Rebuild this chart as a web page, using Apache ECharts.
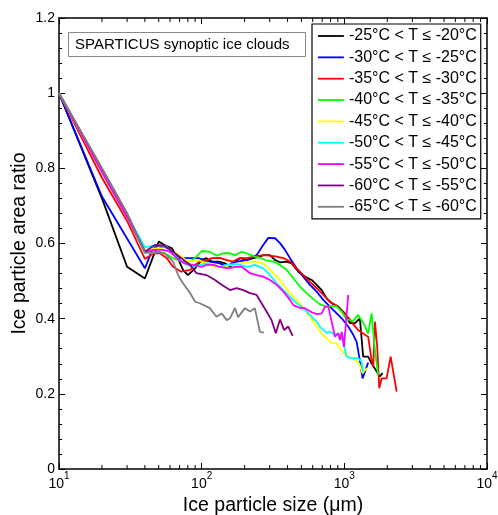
<!DOCTYPE html>
<html><head><meta charset="utf-8">
<script src="https://cdn.jsdelivr.net/npm/echarts@6/dist/echarts.min.js"></script>
<style>html,body{margin:0;padding:0;background:#fff}#c{width:498px;height:515px}</style>
</head><body><div id="c"></div>
<script>
const legendNames = ['-25°C < T ≤ -20°C','-30°C < T ≤ -25°C','-35°C < T ≤ -30°C','-40°C < T ≤ -35°C','-45°C < T ≤ -40°C','-50°C < T ≤ -45°C','-55°C < T ≤ -50°C','-60°C < T ≤ -55°C','-65°C < T ≤ -60°C'];
const lineColors = ['#000000','#0000ff','#ff0000','#00ff00','#ffff00','#00ffff','#ff00ff','#800080','#7f7f7f'];

const size_25_20 = [10,20,30,40,50,55,62,68,74,80,90,100,108,118,131,146,158,171,186,207,230,256,270,301,327,354,394,428,476,529,590,640,694,752,815,907,1009,1094,1186,1285,1355,1469,1552,1775,1854];
const ratio_25_20 = [1.0,0.72,0.538,0.507,0.605,0.596,0.587,0.561,0.530,0.516,0.534,0.556,0.561,0.552,0.552,0.547,0.538,0.552,0.561,0.556,0.561,0.565,0.569,0.569,0.556,0.550,0.552,0.547,0.525,0.512,0.503,0.490,0.476,0.454,0.441,0.432,0.414,0.388,0.388,0.401,0.299,0.299,0.281,0.246,0.255];

const size_30_25 = [10,20,40,45,48,55,60,65,70,79,95,114,134,150,166,186,207,243,270,293,327,354,384,416,463,515,574,640,712,793,884,958,1065,1154,1219,1271,1342,1469];
const ratio_30_25 = [1.0,0.725,0.534,0.583,0.592,0.592,0.583,0.569,0.561,0.561,0.561,0.552,0.547,0.538,0.550,0.553,0.556,0.569,0.596,0.615,0.614,0.601,0.583,0.561,0.534,0.512,0.490,0.472,0.450,0.432,0.414,0.401,0.379,0.357,0.339,0.299,0.241,0.283];

const size_35_30 = [10,20,30,40,46,51,57,63,72,83,90,97,105,118,134,150,166,186,207,236,270,301,336,374,416,463,515,574,640,712,793,884,982,1094,1154,1250,1393,1469,1552,1595,1639,1700,1757,1824,1978,2112,2325];
const ratio_35_30 = [1.0,0.775,0.66,0.559,0.574,0.574,0.561,0.538,0.525,0.530,0.543,0.552,0.553,0.561,0.562,0.556,0.552,0.562,0.561,0.565,0.569,0.568,0.565,0.561,0.552,0.534,0.516,0.498,0.481,0.463,0.445,0.434,0.417,0.398,0.385,0.370,0.357,0.352,0.290,0.272,0.392,0.325,0.215,0.241,0.241,0.299,0.206];

const size_40_35 = [10,20,30,40,45,50,55,63,72,83,92,100,114,127,142,158,171,191,207,236,256,278,318,354,394,439,488,544,606,675,752,837,884,958,1038,1154,1250,1393,1469,1552,1639,1727];
const ratio_40_35 = [1.0,0.79,0.67,0.577,0.574,0.578,0.574,0.561,0.552,0.552,0.565,0.580,0.578,0.568,0.574,0.574,0.569,0.578,0.574,0.565,0.562,0.556,0.552,0.543,0.530,0.508,0.485,0.468,0.452,0.438,0.432,0.434,0.432,0.419,0.398,0.394,0.410,0.381,0.360,0.414,0.317,0.250];

const size_45_40 = [10,20,30,40,45,50,56,60,67,80,95,108,124,142,162,186,218,243,270,301,336,374,416,463,515,574,640,694,752,815,884,932,1009,1094,1186,1271,1342,1393,1445];
const ratio_45_40 = [1.0,0.79,0.67,0.583,0.585,0.588,0.582,0.578,0.574,0.552,0.556,0.547,0.538,0.538,0.543,0.547,0.552,0.552,0.547,0.530,0.512,0.490,0.468,0.450,0.430,0.405,0.380,0.360,0.348,0.335,0.334,0.320,0.305,0.298,0.290,0.280,0.255,0.263,0.268];

const size_50_45 = [10,20,30,40,47,57,63,70,79,87,97,108,121,134,150,166,186,207,236,270,301,336,374,416,463,515,574,640,675,712,752,793,860,907,958,973,1009,1038,1125,1250,1320,1355];
const ratio_50_45 = [1.0,0.795,0.675,0.590,0.596,0.592,0.574,0.556,0.543,0.538,0.543,0.547,0.543,0.538,0.543,0.545,0.543,0.538,0.543,0.534,0.516,0.494,0.476,0.458,0.441,0.428,0.410,0.392,0.378,0.370,0.362,0.365,0.357,0.361,0.343,0.361,0.317,0.299,0.295,0.295,0.286,0.259];

const size_55_50 = [10,20,30,40,46,54,60,67,76,87,100,108,121,134,154,171,191,218,243,270,301,336,374,416,439,463,488,529,590,640,694,732,772,815,860,907,932,958,994,1065];
const ratio_55_50 = [1.0,0.79,0.67,0.578,0.583,0.583,0.578,0.561,0.547,0.543,0.538,0.543,0.543,0.538,0.534,0.538,0.538,0.521,0.516,0.512,0.503,0.490,0.472,0.450,0.436,0.432,0.429,0.428,0.417,0.412,0.414,0.432,0.432,0.392,0.352,0.361,0.343,0.365,0.325,0.463];

const size_60_55 = [10,20,30,40,47,55,63,72,83,92,108,124,138,158,176,196,218,243,263,285,309,331,354,378,405,434];
const ratio_60_55 = [1.0,0.80,0.68,0.578,0.596,0.594,0.578,0.561,0.543,0.521,0.516,0.503,0.490,0.476,0.481,0.476,0.468,0.463,0.441,0.419,0.396,0.361,0.398,0.370,0.379,0.354];

const size_65_60 = [10,20,30,40,50,55,63,68.5,74,83,90,97,114,127,138,150,158,171,180,201,218,236,256,273];
const ratio_65_60 = [1.0,0.80,0.68,0.575,0.578,0.574,0.552,0.515,0.494,0.468,0.445,0.441,0.428,0.405,0.414,0.396,0.401,0.428,0.404,0.428,0.419,0.428,0.365,0.363];

const xMinorTicks = [20,30,40,50,60,70,80,90,200,300,400,500,600,700,800,900,2000,3000,4000,5000,6000,7000,8000,9000];
const noteText = 'SPARTICUS synoptic ice clouds';
const xTitle = 'Ice particle size (\u03bcm)';
const yTitle = 'Ice particle area ratio';

const sizes = [size_25_20,size_30_25,size_35_30,size_40_35,size_45_40,size_50_45,size_55_50,size_60_55,size_65_60];
const ratios = [ratio_25_20,ratio_30_25,ratio_35_30,ratio_40_35,ratio_45_40,ratio_50_45,ratio_55_50,ratio_60_55,ratio_65_60];

const FONT = 'Liberation Sans, Arial, sans-serif';
const chart = echarts.init(document.getElementById('c'), null, {renderer:'canvas'});

const lineSeries = legendNames.map((name, i) => ({
  name, type:'line', xAxisIndex:0, yAxisIndex:0, symbol:'none', silent:true, animation:false,
  lineStyle:{color:lineColors[i], width:1.8}, itemStyle:{color:lineColors[i]},
  data: sizes[i].map((s, j) => [s, ratios[i][j]]), z: 2 + i
}));

const minorTickSeries = {
  type:'custom', xAxisIndex:0, yAxisIndex:0, silent:true, animation:false, z:20,
  data: xMinorTicks.map(v => [v]),
  renderItem: (params, api) => {
    const v = api.value(0);
    const b = api.coord([v, 0]);
    const t = api.coord([v, 1.2]);
    return {type:'group', children:[
      {type:'line', shape:{x1:b[0], y1:b[1], x2:b[0], y2:b[1]-4}, style:{stroke:'#000', lineWidth:1}},
      {type:'line', shape:{x1:t[0], y1:t[1], x2:t[0], y2:t[1]+4}, style:{stroke:'#000', lineWidth:1}}
    ]};
  }
};

const supMap = {10:'1',100:'2',1000:'3',10000:'4'};
const common = {axisLine:{show:true, onZero:false, lineStyle:{color:'#000', width:1.5}},
  axisTick:{show:true, inside:true, length:6, lineStyle:{color:'#000', width:1}},
  splitLine:{show:false}};

chart.setOption({
  animation:false,
  backgroundColor:'#fff',
  grid:{left:59, right:11, top:18, bottom:46, containLabel:false, outerBoundsMode:'none'},
  title:{text:noteText, left:68, top:32, padding:[5,16,5,7], borderColor:'#888', borderWidth:1,
    textStyle:{fontFamily:FONT, fontSize:15, fontWeight:'normal', color:'#000'}},
  legend:{data:legendNames, orient:'vertical', left:312, top:24, padding:[4,4,4,5],
    itemWidth:26, itemHeight:14, itemGap:5.35, borderColor:'#000', borderWidth:1.2, backgroundColor:'#fff',
    itemStyle:{opacity:0}, lineStyle:{width:1.8},
    selectedMode:false, textStyle:{fontFamily:FONT, fontSize:16, color:'#000'}},
  xAxis:[
    Object.assign({type:'log', logBase:10, min:10, max:10000, position:'bottom',
      name:xTitle, nameLocation:'middle', nameGap:15,
      nameTextStyle:{fontFamily:FONT, fontSize:19.5, color:'#000'},
      minorTick:{show:false},
      axisLabel:{show:true, margin:2, fontFamily:FONT, fontSize:14, color:'#000',
        formatter:(v)=> '{b|10}{s|' + (supMap[Math.round(v)]||'') + '}',
        rich:{b:{fontFamily:FONT, fontSize:14, color:'#000', lineHeight:20, verticalAlign:'bottom'},
              s:{fontFamily:FONT, fontSize:10, color:'#000', lineHeight:20, verticalAlign:'top'}}}
    }, common),
    Object.assign({type:'log', logBase:10, min:10, max:10000, position:'top', axisLabel:{show:false}}, common)
  ],
  yAxis:[
    Object.assign({type:'value', min:0, max:1.2, interval:0.2, position:'left',
      name:yTitle, nameLocation:'middle', nameGap:29, nameMoveOverlap:false,
      nameTextStyle:{fontFamily:FONT, fontSize:19.5, color:'#000'},
      minorTick:{show:true, splitNumber:5, length:3, lineStyle:{color:'#000'}},
      axisLabel:{margin:4, fontFamily:FONT, fontSize:14, color:'#000'}}, common),
    Object.assign({type:'value', min:0, max:1.2, interval:0.2, position:'right',
      minorTick:{show:true, splitNumber:5, length:3, lineStyle:{color:'#000'}},
      axisLabel:{show:false}}, common)
  ],
  series: lineSeries.concat([minorTickSeries])
});
</script></body></html>
